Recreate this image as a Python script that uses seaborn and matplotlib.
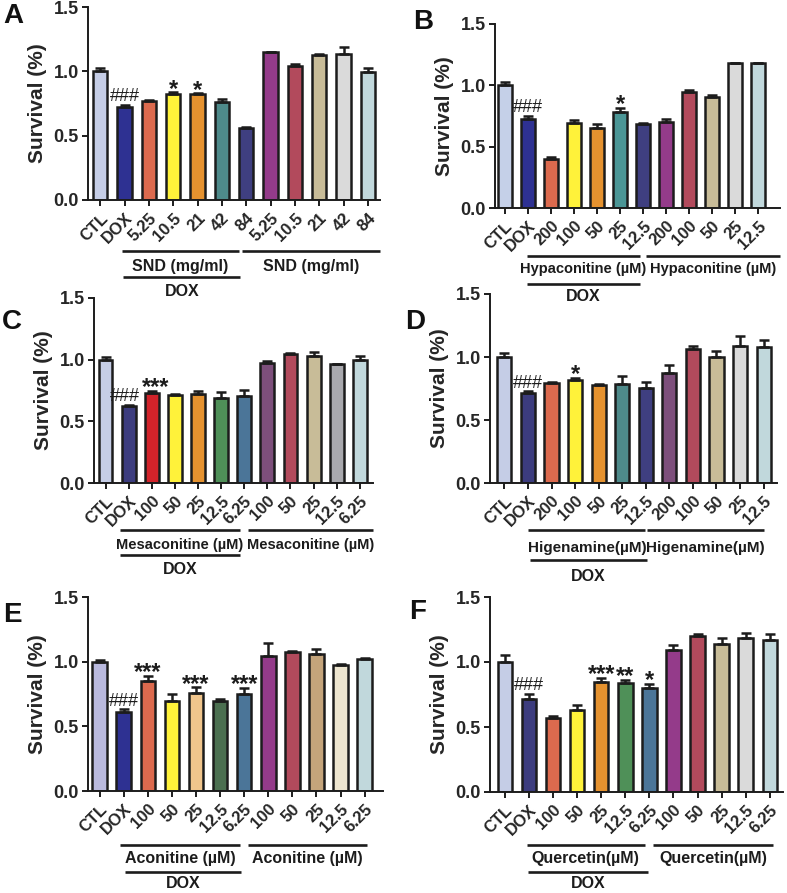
import numpy as np
import pandas as pd
import matplotlib
matplotlib.use("Agg")
import matplotlib.pyplot as plt
import matplotlib.transforms as mtransforms
import seaborn as sns

sns.set_theme(style="ticks")
plt.rcParams['font.family'] = ['Liberation Sans', 'DejaVu Sans']
plt.rcParams['font.weight'] = 'bold'
plt.rcParams['axes.labelweight'] = 'bold'

# ---------------- data ----------------
base_labels = ["CTL", "DOX"]

conc_A = ["5.25", "10.5", "21", "42", "84"]
conc_B = ["200", "100", "50", "25", "12.5"]
conc_C = ["100", "50", "25", "12.5", "6.25"]
conc_D = ["200", "100", "50", "25", "12.5"]
conc_E = ["100", "50", "25", "12.5", "6.25"]
conc_F = ["100", "50", "25", "12.5", "6.25"]

group_A = "SND (mg/ml)"
group_B = "Hypaconitine (\u00b5M)"
group_C = "Mesaconitine (\u00b5M)"
group_D = "Higenamine(\u00b5M)"
group_E = "Aconitine (\u00b5M)"
group_F = "Quercetin(\u00b5M)"

vals_A = [1.00, 0.722, 0.769, 0.826, 0.821, 0.758, 0.561, 1.153, 1.039, 1.125, 1.138, 0.992]
err_A  = [0.025, 0.02, 0.01, 0.01, 0.01, 0.026, 0.01, 0.0, 0.018, 0.01, 0.05, 0.034]
sig_A  = ["", "###", "", "*", "*", "", "", "", "", "", "", ""]

vals_B = [1.00, 0.724, 0.400, 0.689, 0.651, 0.784, 0.684, 0.703, 0.943, 0.905, 1.181, 1.181]
err_B  = [0.03, 0.03, 0.013, 0.03, 0.03, 0.035, 0.013, 0.02, 0.016, 0.016, 0.0, 0.0]
sig_B  = ["", "###", "", "", "", "*", "", "", "", "", "", ""]

vals_C = [1.00, 0.622, 0.730, 0.711, 0.724, 0.689, 0.703, 0.973, 1.046, 1.027, 0.968, 1.00]
err_C  = [0.02, 0.013, 0.019, 0.008, 0.019, 0.049, 0.054, 0.019, 0.008, 0.038, 0.0, 0.032]
sig_C  = ["", "###", "***", "", "", "", "", "", "", "", "", ""]

vals_D = [1.00, 0.716, 0.790, 0.814, 0.775, 0.782, 0.751, 0.875, 1.066, 1.00, 1.088, 1.077]
err_D  = [0.03, 0.013, 0.01, 0.021, 0.008, 0.066, 0.05, 0.064, 0.021, 0.045, 0.08, 0.061]
sig_D  = ["", "###", "", "*", "", "", "", "", "", "", "", ""]

vals_E = [1.00, 0.613, 0.853, 0.696, 0.755, 0.696, 0.753, 1.044, 1.072, 1.059, 0.974, 1.018]
err_E  = [0.015, 0.018, 0.036, 0.052, 0.046, 0.018, 0.044, 0.098, 0.01, 0.041, 0.008, 0.01]
sig_E  = ["", "###", "***", "", "***", "", "***", "", "", "", "", ""]

vals_F = [1.00, 0.718, 0.572, 0.633, 0.844, 0.838, 0.800, 1.090, 1.203, 1.141, 1.187, 1.172]
err_F  = [0.051, 0.038, 0.01, 0.033, 0.033, 0.026, 0.033, 0.038, 0.013, 0.044, 0.036, 0.046]
sig_F  = ["", "###", "", "", "***", "**", "*", "", "", "", "", ""]

# ---------------- styles ----------------
colors_A = ["#c5cde6", "#2e3192", "#dc6a4e", "#fff23a", "#e5922f", "#4e8a8a",
            "#3f3f80", "#943b8a", "#b24a5c", "#c8bc98", "#dadada", "#c1d8dc"]
colors_B = ["#c5d0e8", "#2e3192", "#dc6a4e", "#fff23a", "#e5922f", "#4b9696",
            "#3f3f80", "#943b8a", "#b24a5c", "#c8bc98", "#dadada", "#c1d8dc"]
colors_C = ["#c5cde6", "#3c3c7e", "#d2232a", "#fff23a", "#e5922f", "#4f9058",
            "#4b7598", "#7d4f7b", "#b24a5c", "#c8bc98", "#a9a9ae", "#c1d8dc"]
colors_D = ["#c5cde6", "#3c3c7e", "#dc6a4e", "#fff23a", "#e5922f", "#4e8a8a",
            "#3f3f80", "#7d4f7b", "#b24a5c", "#c8bc98", "#dadada", "#c1d8dc"]
colors_E = ["#b9b9de", "#2e3192", "#dc6a4e", "#fff23a", "#f0c58c", "#4b6f50",
            "#4b7598", "#943b8a", "#b24a5c", "#c4a47b", "#ede5cf", "#c1d8dc"]
colors_F = ["#c5cde6", "#3c3c7e", "#dc6a4e", "#fff23a", "#e5922f", "#4f9058",
            "#4b7598", "#943b8a", "#b24a5c", "#c8bc98", "#dadada", "#c1d8dc"]

FIG_W, FIG_H = 787, 893
fig = plt.figure(figsize=(FIG_W / 100, FIG_H / 100), dpi=100)
INK = "#1c1c1c"


def px_rect(left, right, top, bottom):
    return [left / FIG_W, 1 - bottom / FIG_H, (right - left) / FIG_W, (bottom - top) / FIG_H]


def draw_panel(layout, letter, labels, vals, errs, sigs, colors, group):
    ax = fig.add_axes(px_rect(*layout["rect"]))
    ax.patch.set_alpha(0)
    n = len(vals)
    df = pd.DataFrame({"pos": [str(i) for i in range(n)], "val": vals})
    sns.barplot(data=df, x="pos", y="val", hue="pos", palette=colors, legend=False,
                width=0.6, edgecolor=INK, linewidth=1.8, errorbar=None,
                saturation=1, ax=ax, zorder=2)
    bars = sorted([p for c in ax.containers for p in c], key=lambda p: p.get_x())
    centers = np.array([p.get_x() + p.get_width() / 2 for p in bars])
    vals = np.asarray(vals)
    errs = np.asarray(errs)
    ax.errorbar(centers, vals, yerr=[np.zeros(n), errs], fmt="none", ecolor=INK,
                elinewidth=1.8, capsize=3.6, capthick=1.8, zorder=3)

    ax.set_xlim(*layout["xlim"])
    ax.set_ylim(0, 1.5)
    ax.set_yticks([0, 0.5, 1.0, 1.5])
    ax.set_yticklabels(["0.0", "0.5", "1.0", "1.5"], fontsize=13, fontweight="bold")
    ax.set_xticks(centers)
    ax.set_xticklabels(labels, rotation=45, ha="right", rotation_mode="anchor",
                       fontsize=12, fontweight="bold")
    ax.set_xlabel("")
    ax.set_ylabel("Survival (%)", fontsize=15, fontweight="bold", labelpad=5)
    for s in ["top", "right"]:
        ax.spines[s].set_visible(False)
    for s in ["left", "bottom"]:
        ax.spines[s].set_linewidth(1.4)
        ax.spines[s].set_color(INK)
    ax.tick_params(axis="both", width=1.4, length=4.5, color=INK, pad=2)
    ax.tick_params(axis="x", pad=3)

    # significance marks
    for i, (x, v, e, s) in enumerate(zip(centers, vals, errs, sigs)):
        if not s:
            continue
        if s.startswith("#"):
            crowd = i + 1 < n and sigs[i + 1] and (vals[i + 1] + errs[i + 1]) - (v + e) < 0.2
            ax.annotate(s, xy=(x, v + e), xytext=(-3 if crowd else 0, 2.5),
                        textcoords="offset points", ha="center", va="baseline",
                        fontsize=13, fontweight="normal", color=INK,
                        annotation_clip=False)
        else:
            crowd = i > 0 and sigs[i - 1].startswith("#") and (v + e) - (vals[i - 1] + errs[i - 1]) < 0.2
            ax.annotate(s, xy=(x, v + e), xytext=(3 if crowd else 0, -2.5),
                        textcoords="offset points", ha="center", va="baseline",
                        fontsize=17, fontweight="bold", color=INK,
                        annotation_clip=False)

    # brackets
    h_px = layout["rect"][3] - layout["rect"][2]
    tr = mtransforms.blended_transform_factory(ax.transData, ax.transAxes)
    o1, ot, o2, od = layout["offs"]
    (a0, a1), (b0, b1), (d0, d1) = layout["lines"]
    for (x0, x1) in [(a0, a1), (b0, b1)]:
        ax.plot([x0, x1], [-o1 / h_px] * 2, transform=tr, color=INK, lw=1.9,
                clip_on=False, solid_capstyle="butt")
        ax.text((x0 + x1) / 2, -ot / h_px, group, transform=tr, ha="center",
                va="center", fontsize=layout["gfs"], fontweight="bold", color=INK)
    ax.plot([d0, d1], [-o2 / h_px] * 2, transform=tr, color=INK, lw=1.9,
            clip_on=False, solid_capstyle="butt")
    ax.text((d0 + d1) / 2, -od / h_px, "DOX", transform=tr, ha="center",
            va="center", fontsize=11.5, fontweight="bold", color=INK)

    lx, ly = layout["letter"]
    fig.text(lx / FIG_W, 1 - ly / FIG_H, letter, ha="center", va="center",
             fontsize=20, fontweight="bold", color="#111111")
    return ax


layouts = {
    "A": dict(rect=(88, 380, 7, 200), xlim=(-0.5, 11.5), offs=(51, 66, 77, 91),
              lines=((0.9, 5.7), (5.84, 11.5), (0.95, 5.76)), gfs=11.5, letter=(13, 16)),
    "B": dict(rect=(495, 780, 24, 208), xlim=(-0.43, 11.94), offs=(48, 61, 76, 88),
              lines=((0.94, 5.86), (6.12, 11.94), (0.94, 5.86)), gfs=10.5, letter=(423, 22)),
    "C": dict(rect=(94, 373, 298, 483), xlim=(-0.5, 11.57), offs=(47, 62, 72, 86),
              lines=((0.61, 5.83), (6.16, 11.57), (0.61, 5.83)), gfs=10.5, letter=(12, 322)),
    "D": dict(rect=(490, 777, 294, 483), xlim=(-0.61, 11.57), offs=(47, 65, 77, 93),
              lines=((1.02, 5.98), (6.05, 11.0), (1.08, 6.05)), gfs=11, letter=(415, 322)),
    "E": dict(rect=(88, 383, 597, 791), xlim=(-0.48, 11.76), offs=(54, 67, 81, 92),
              lines=((0.86, 5.84), (6.15, 11.1), (1.04, 5.88)), gfs=11.5, letter=(12, 615)),
    "F": dict(rect=(490, 783, 597, 792), xlim=(-0.62, 11.55), offs=(53, 67, 80, 92),
              lines=((0.9, 5.81), (6.15, 11.13), (0.97, 5.95)), gfs=11.5, letter=(418, 612)),
}

draw_panel(layouts["A"], "A", base_labels + conc_A + conc_A, vals_A, err_A, sig_A, colors_A, group_A)
draw_panel(layouts["B"], "B", base_labels + conc_B + conc_B, vals_B, err_B, sig_B, colors_B, group_B)
draw_panel(layouts["C"], "C", base_labels + conc_C + conc_C, vals_C, err_C, sig_C, colors_C, group_C)
draw_panel(layouts["D"], "D", base_labels + conc_D + conc_D, vals_D, err_D, sig_D, colors_D, group_D)
draw_panel(layouts["E"], "E", base_labels + conc_E + conc_E, vals_E, err_E, sig_E, colors_E, group_E)
draw_panel(layouts["F"], "F", base_labels + conc_F + conc_F, vals_F, err_F, sig_F, colors_F, group_F)

fig.savefig("out.png", dpi=100, facecolor="white")
